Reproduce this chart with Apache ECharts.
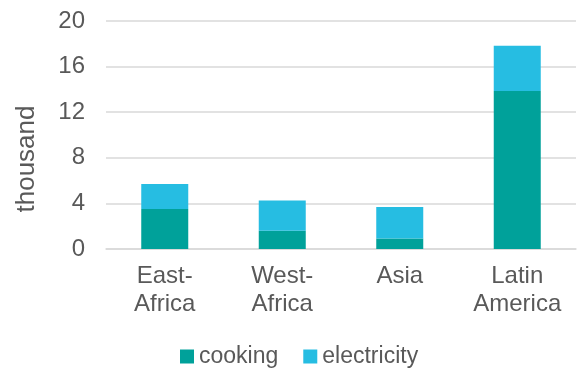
<!DOCTYPE html>
<html><head><meta charset="utf-8">
<script src="https://cdn.jsdelivr.net/npm/echarts@6/dist/echarts.min.js"></script>
<style>html,body{margin:0;padding:0;background:#fff}#c{width:577px;height:369px}</style>
</head><body><div id="c"></div>
<script>
var categories = ["East-\nAfrica", "West-\nAfrica", "Asia", "Latin\nAmerica"];
var cooking = [3.5, 1.6, 0.93, 13.86];
var electricity = [2.2, 2.66, 2.76, 3.96];
var yTicks = {min: 0, max: 20, interval: 4};

var font = "'Liberation Sans', Arial, sans-serif";
var txt = '#595959';
var chart = echarts.init(document.getElementById('c'), null, {renderer: 'canvas'});
chart.setOption({
  animation: false,
  textStyle: {fontFamily: font},
  grid: {left: 106, right: 1, top: 21, bottom: 120, containLabel: false, outerBoundsMode: 'none'},
  legend: {
    top: 345, left: 180, padding: 0, icon: 'rect', itemWidth: 14, itemHeight: 14, itemGap: 25,
    textStyle: {fontSize: 23, color: txt, fontFamily: font},
    data: ['cooking', 'electricity']
  },
  xAxis: {
    type: 'category', data: categories,
    axisLine: {lineStyle: {color: '#d9d9d9', width: 1.5}},
    axisTick: {show: false},
    axisLabel: {fontSize: 24, color: txt, lineHeight: 28, margin: 13, interval: 0, fontFamily: font}
  },
  yAxis: {
    type: 'value', min: yTicks.min, max: yTicks.max, interval: yTicks.interval,
    name: 'thousand', nameLocation: 'middle', nameGap: 66, nameRotate: 90,
    nameTextStyle: {fontSize: 26, color: txt, fontFamily: font, padding: [0, 48, 0, 0]},
    axisLine: {show: false}, axisTick: {show: false},
    axisLabel: {fontSize: 24, color: txt, margin: 21, fontFamily: font},
    splitLine: {lineStyle: {color: '#d9d9d9', width: 1.5}}
  },
  series: [
    {name: 'cooking', type: 'bar', stack: 'a', data: cooking, barWidth: '40%', itemStyle: {color: '#00A19A'}},
    {name: 'electricity', type: 'bar', stack: 'a', data: electricity, barWidth: '40%', itemStyle: {color: '#26BDE2'}}
  ]
});
</script></body></html>
